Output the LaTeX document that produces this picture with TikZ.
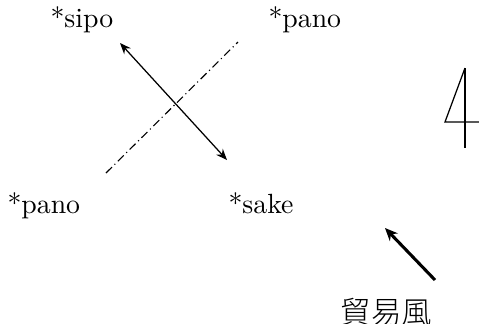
\documentclass[tikz,border=0pt]{standalone}
\usepackage{fontspec}
\newfontfamily\jpfont{Noto Sans CJK JP}[UprightFont=* Light]
\usetikzlibrary{arrows.meta}

\begin{document}
\begin{tikzpicture}[x=0.36pt, y=-0.36pt,
    word/.style={inner sep=0pt, anchor=base west},
    arr/.style={{Stealth[length=4pt, width=3.2pt]}-{Stealth[length=4pt, width=3.2pt]},
                line width=0.45pt},
    axisline/.style={line width=0.4pt,
                     dash pattern=on 3pt off 1.3pt on 0.4pt off 1.3pt},
    wind/.style={-{Stealth[length=4.6pt, width=4pt]}, line width=1.1pt},
  ]
  \useasboundingbox (0,0) rectangle (479,323);

  % Namen
  \node[word] (sipo) at (50,27) {*sipo};
  \node[word] (panoR) at (268,27) {*pano};
  \node[word] (panoL) at (7,213) {*pano};
  \node[word] (sake) at (228,213) {*sake};

  % Achsen
  \coordinate (a1) at (120,43);
  \coordinate (a2) at (227,160);
  \draw[arr] (a1) -- (a2);
  \coordinate (b1) at (106,173);
  \coordinate (b2) at (238,42);
  \draw[axisline] (b1) -- (b2);

  % Zeichen rechts
  \draw[line width=0.45pt] (465,68) -- (465,148);
  \draw[line width=0.45pt] (465,68) -- (445,122) -- (479,122);

  % Passat
  \node[font=\jpfont\fontsize{11}{13}\selectfont, inner sep=0pt] (wind) at (386.5,312) {貿易風};
  \coordinate (w1) at (435,280);
  \coordinate (w2) at (385,228);
  \draw[wind] (w1) -- (w2);
\end{tikzpicture}
\end{document}
